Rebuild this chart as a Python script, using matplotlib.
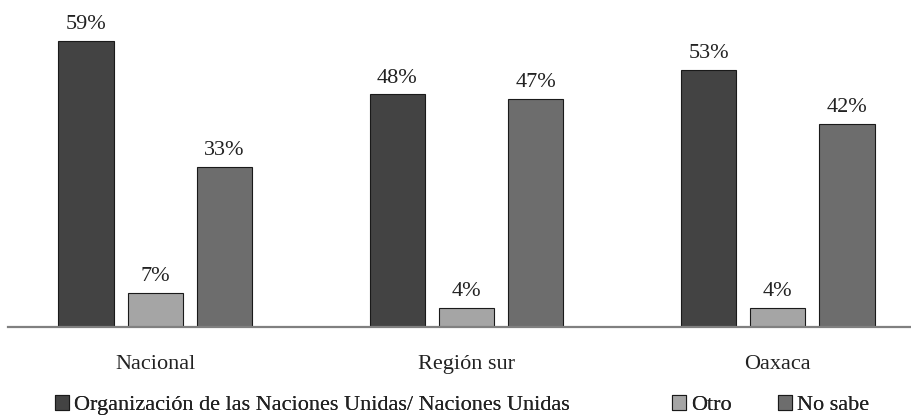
import matplotlib
matplotlib.use("Agg")
import matplotlib.pyplot as plt
from matplotlib.patches import Patch
import numpy as np

categories = ["Nacional", "Región sur", "Oaxaca"]
series_names = ["Organización de las Naciones Unidas/ Naciones Unidas", "Otro", "No sabe"]
onu = [59, 48, 53]
otro = [7, 4, 4]
no_sabe = [33, 47, 42]
colors = ["#434343", "#a5a5a5", "#6d6d6d"]

plt.rcParams['font.family'] = ['Liberation Serif', 'DejaVu Serif']

W, H = 911, 419
fig = plt.figure(figsize=(W / 100, H / 100), dpi=100)
ax = fig.add_axes([8 / W, (H - 327) / H, (W - 8) / W, 327 / H])

x = np.arange(len(categories))
width = 0.177
offset = 0.222
series = [onu, otro, no_sabe]
for i, (vals, name, c) in enumerate(zip(series, series_names, colors)):
    pos = x + (i - 1) * offset
    bars = ax.bar(pos, vals, width=width, color=c, edgecolor="#1a1a1a",
                  linewidth=0.8, label=name, zorder=2)
    for b, v in zip(bars, vals):
        ax.annotate(f"{v}%", (b.get_x() + b.get_width() / 2, v),
                    xytext=(0, 5), textcoords="offset points",
                    ha="center", va="bottom", fontsize=16, color="#222222")

ax.set_xlim(-0.4727, 2.4277)
ax.set_ylim(0, 67.5)
ax.set_xticks(x)
ax.set_xticklabels(categories, fontsize=16, color="#222222")
ax.tick_params(axis="x", length=0, pad=20)
ax.set_yticks([])
for s in ["top", "right", "left"]:
    ax.spines[s].set_visible(False)
ax.spines["bottom"].set_color("#808080")
ax.spines["bottom"].set_linewidth(1.6)

# legend entries placed individually as in the reference
legend_x = [55, 672, 778]
for name, c, lx in zip(series_names, colors, legend_x):
    handle = Patch(facecolor=c, edgecolor="#1a1a1a", linewidth=0.8)
    leg = fig.legend([handle], [name], loc="center left",
                     bbox_to_anchor=(lx / W, 14 / H), frameon=False,
                     fontsize=16, handlelength=0.65, handleheight=0.65,
                     handletextpad=0.2, borderpad=0, borderaxespad=0,
                     labelcolor="#222222")
    fig.add_artist(leg)

fig.savefig("out.png", dpi=100)
